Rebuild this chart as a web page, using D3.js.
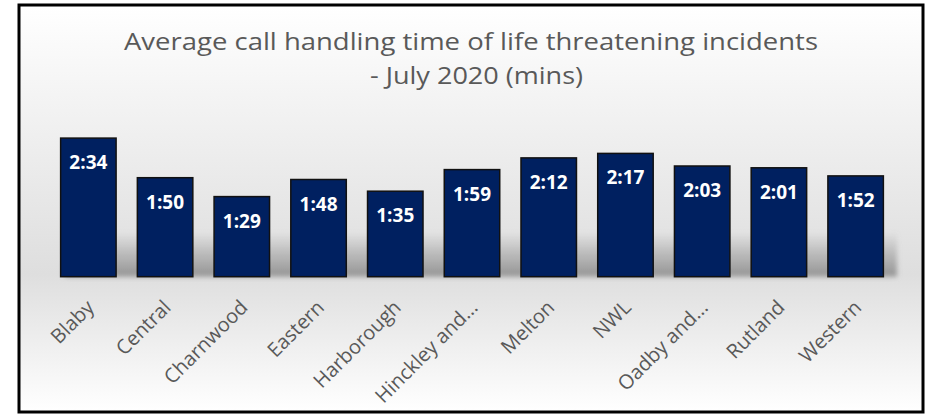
<!DOCTYPE html>
<html><head><meta charset="utf-8">
<script src="https://cdn.jsdelivr.net/npm/d3@7"></script>
<style>html,body{margin:0;padding:0;background:#fff;}svg{display:block;}</style>
</head><body>
<svg id="chart" width="929" height="415"></svg>
<script>
const categories = ["Blaby","Central","Charnwood","Eastern","Harborough","Hinckley and...","Melton","NWL","Oadby and...","Rutland","Western"];
const valueLabels = ["2:34","1:50","1:29","1:48","1:35","1:59","2:12","2:17","2:03","2:01","1:52"];
const seconds = [154,110,89,108,95,119,132,137,123,121,112];
const titleLines = ["Average call handling time of life threatening incidents","- July 2020 (mins)"];
const yMax = 180;

const svg = d3.select("#chart");
const defs = svg.append("defs");
const bg = defs.append("linearGradient").attr("id","bg").attr("x1",0).attr("y1",0).attr("x2",0).attr("y2",1);
bg.append("stop").attr("offset","0%").attr("stop-color","#ffffff");
bg.append("stop").attr("offset","66%").attr("stop-color","#dedede");
bg.append("stop").attr("offset","100%").attr("stop-color","#ffffff");
const sh = defs.append("linearGradient").attr("id","sh").attr("x1",0).attr("y1",0).attr("x2",0).attr("y2",1);
sh.append("stop").attr("offset","0%").attr("stop-color","#8c8c8c").attr("stop-opacity",0);
sh.append("stop").attr("offset","100%").attr("stop-color","#8c8c8c").attr("stop-opacity",0.9);
defs.append("filter").attr("id","blur").attr("x","-10%").attr("y","-10%").attr("width","120%").attr("height","120%")
  .append("feGaussianBlur").attr("stdDeviation",2.5);

// frame
svg.append("rect").attr("x",19).attr("y",5).attr("width",904).attr("height",407)
  .attr("fill","url(#bg)").attr("stroke","#000").attr("stroke-width",3);

const x = d3.scaleBand().domain(categories).range([50,894]).paddingInner(0.277).paddingOuter(0.1385);
const y = d3.scaleLinear().domain([0,yMax]).range([276.7,114.7]);

// soft shadow band behind bars
svg.append("rect").attr("x",x(categories[0])+4).attr("y",232)
  .attr("width",893 - x(categories[0])).attr("height",y(0)-232)
  .attr("fill","url(#sh)").attr("filter","url(#blur)");

// title
const tl = svg.append("g").attr("fill","#595959").attr("font-family","'Open Sans', sans-serif").attr("font-size",24.5).attr("text-anchor","middle");
tl.append("text").attr("x",471).attr("y",50).attr("textLength",694).attr("lengthAdjust","spacingAndGlyphs").text(titleLines[0]);
tl.append("text").attr("x",476.5).attr("y",84).attr("textLength",213).attr("lengthAdjust","spacingAndGlyphs").text(titleLines[1]);

// bars
svg.append("g").selectAll("rect").data(categories).join("rect")
  .attr("x",d=>x(d)).attr("width",x.bandwidth())
  .attr("y",(d,i)=>y(seconds[i])).attr("height",(d,i)=>y(0)-y(seconds[i]))
  .attr("fill","#002060").attr("stroke","#111").attr("stroke-width",1.5);

// value labels
svg.append("g").selectAll("text").data(categories).join("text")
  .attr("x",d=>x(d)+x.bandwidth()/2).attr("y",(d,i)=>y(seconds[i])+31)
  .attr("text-anchor","middle").attr("fill","#fff").attr("font-weight",700)
  .attr("font-family","'Open Sans', sans-serif").attr("font-size",19)
  .text((d,i)=>valueLabels[i]);

// x axis labels
const xAxis = d3.axisBottom(x).tickSize(0).tickPadding(0);
const ax = svg.append("g").attr("transform",`translate(0,${y(0)})`).call(xAxis);
ax.select(".domain").remove();
ax.selectAll("text")
  .attr("font-family","'Open Sans', sans-serif").attr("font-size",20).attr("fill","#595959")
  .attr("text-anchor","end").attr("dy",0).attr("y",0).attr("x",0)
  .attr("transform","translate(7,32) rotate(-45)");
</script>
</body></html>
